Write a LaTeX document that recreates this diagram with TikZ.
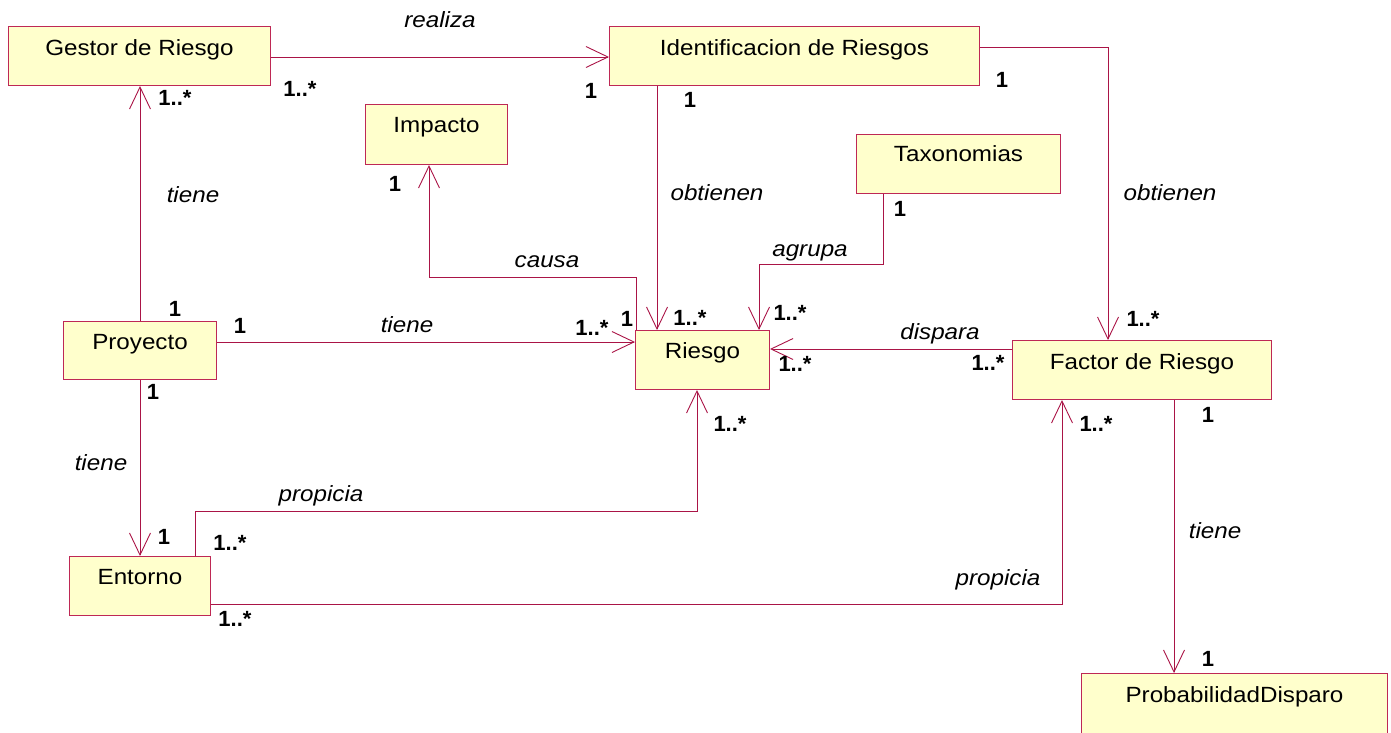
\documentclass[tikz,border=0pt]{standalone}
\usepackage{fontspec}
\setmainfont[FakeStretch=1.1]{Liberation Sans}
\newfontfamily\multfont{Liberation Sans}
\usetikzlibrary{arrows.meta,calc}

\definecolor{boxfill}{RGB}{255,255,204}
\definecolor{boxline}{RGB}{190,40,85}
\definecolor{linkline}{RGB}{170,20,70}

\begin{document}
\begin{tikzpicture}[x=1pt,y=-1pt,
  cls/.style={draw=boxline, fill=boxfill, line width=1pt, anchor=north west,
    inner xsep=0pt, inner ysep=0pt, text height=29pt, text depth=30pt,
    font=\fontsize{22}{26}\selectfont},
  link/.style={draw=linkline, line width=0.9pt,
    -{Straight Barb[length=22pt,width=21pt,line width=0.9pt]}},
  plainlink/.style={draw=linkline, line width=0.9pt},
  role/.style={inner sep=0pt, text height=15pt, text depth=0pt,
    font=\fontsize{22}{26}\selectfont\itshape},
  mult/.style={inner sep=0pt, text height=16pt, text depth=0pt,
    font=\multfont\fontsize{22}{26}\selectfont\bfseries},
]
\useasboundingbox (0,0) rectangle (1391,732);

% classes
\node[cls, minimum width=262pt] (gestor)   at (8,26)    {Gestor de Riesgo};
\node[cls, minimum width=370pt] (ident)    at (609,26)  {Identificacion de Riesgos};
\node[cls, minimum width=142pt, text height=28pt, text depth=32pt] (impacto) at (365,104) {Impacto};
\node[cls, minimum width=204pt, text height=27pt, text depth=32pt] (taxo) at (856,134) {Taxonomias};
\node[cls, minimum width=153pt, text height=28pt, text depth=30pt] (proyecto) at (63,321) {Proyecto};
\node[cls, minimum width=134pt, text height=28pt, text depth=31pt] (riesgo) at (635,330) {Riesgo};
\node[cls, minimum width=259pt] (factor)   at (1012,340) {Factor de Riesgo};
\node[cls, minimum width=141pt, text height=28pt, text depth=31pt] (entorno) at (69,556) {Entorno};
\node[cls, minimum width=306pt, text height=29pt, text depth=45pt] (prob) at (1081,673) {ProbabilidadDisparo};

% associations
\draw[link] ($(gestor.north east)+(0,31)$) -- ($(ident.north west)+(0,31)$);
\draw[link] ($(proyecto.north west)+(77,0)$) -- ($(gestor.south west)+(132,0)$);
\draw[link] ($(proyecto.south west)+(77,0)$) -- ($(entorno.north west)+(71,0)$);
\draw[link] ($(proyecto.north east)+(0,21)$) -- ($(riesgo.north west)+(0,12)$);
\draw[link] ($(ident.south west)+(48,0)$) -- ($(riesgo.north west)+(22,0)$);
\draw[link] ($(ident.north east)+(0,21)$) -| ($(factor.north west)+(96,0)$);
\draw[link] ($(riesgo.north west)+(1,0)$) -- ++(0,-53) -| ($(impacto.south west)+(64,0)$);
\draw[link] ($(taxo.south west)+(27,0)$) -- ++(0,70) -| ($(riesgo.north west)+(124,0)$);
\draw[link] ($(factor.north west)+(0,9)$) -- ($(riesgo.north east)+(0,19)$);
\draw[link] ($(entorno.north west)+(126,0)$) -- ++(0,-45) -| ($(riesgo.south west)+(62,0)$);
\draw[link] ($(entorno.south east)+(0,-12)$) -| ($(factor.south west)+(50,0)$);
\draw[link] ($(factor.south west)+(162,0)$) -- ($(prob.north west)+(93,0)$);

% role names
\node[role] (rRealiza)  at (440,20)  {realiza};
\node[role] (rTieneGP)  at (193,195) {tiene};
\node[role] (rTienePE)  at (101,463) {tiene};
\node[role] (rTienePR)  at (407,325) {tiene};
\node[role] (rObtR)     at (717,193) {obtienen};
\node[role] (rObtF)     at (1170,193) {obtienen};
\node[role] (rCausa)    at (547,260) {causa};
\node[role] (rAgrupa)   at (810,249) {agrupa};
\node[role] (rDispara)  at (940,332) {dispara};
\node[role] (rPropR)    at (321,494) {propicia};
\node[role] (rPropF)    at (998,578) {propicia};
\node[role] (rTieneFP)  at (1215,531) {tiene};

% multiplicities
\node[mult] (m1)  at (300,88)  {1..*};
\node[mult] (m2)  at (591,90)  {1};
\node[mult] (m3)  at (175,97)  {1..*};
\node[mult] (m4)  at (690,99)  {1};
\node[mult] (m5)  at (1002,79) {1};
\node[mult] (m6)  at (395,183) {1};
\node[mult] (m7)  at (900,208) {1};
\node[mult] (m8)  at (175,308) {1};
\node[mult] (m9)  at (240,325) {1};
\node[mult] (m10) at (592,327) {1..*};
\node[mult] (m11) at (627,318) {1};
\node[mult] (m12) at (690,317) {1..*};
\node[mult] (m13) at (790,312) {1..*};
\node[mult] (m14) at (1143,318) {1..*};
\node[mult] (m15) at (795,363) {1..*};
\node[mult] (m16) at (988,362) {1..*};
\node[mult] (m17) at (153,391) {1};
\node[mult] (m18) at (730,423) {1..*};
\node[mult] (m19) at (1096,423) {1..*};
\node[mult] (m20) at (1208,414) {1};
\node[mult] (m21) at (164,536) {1};
\node[mult] (m22) at (230,542) {1..*};
\node[mult] (m23) at (235,618) {1..*};
\node[mult] (m24) at (1208,658) {1};
\end{tikzpicture}
\end{document}
